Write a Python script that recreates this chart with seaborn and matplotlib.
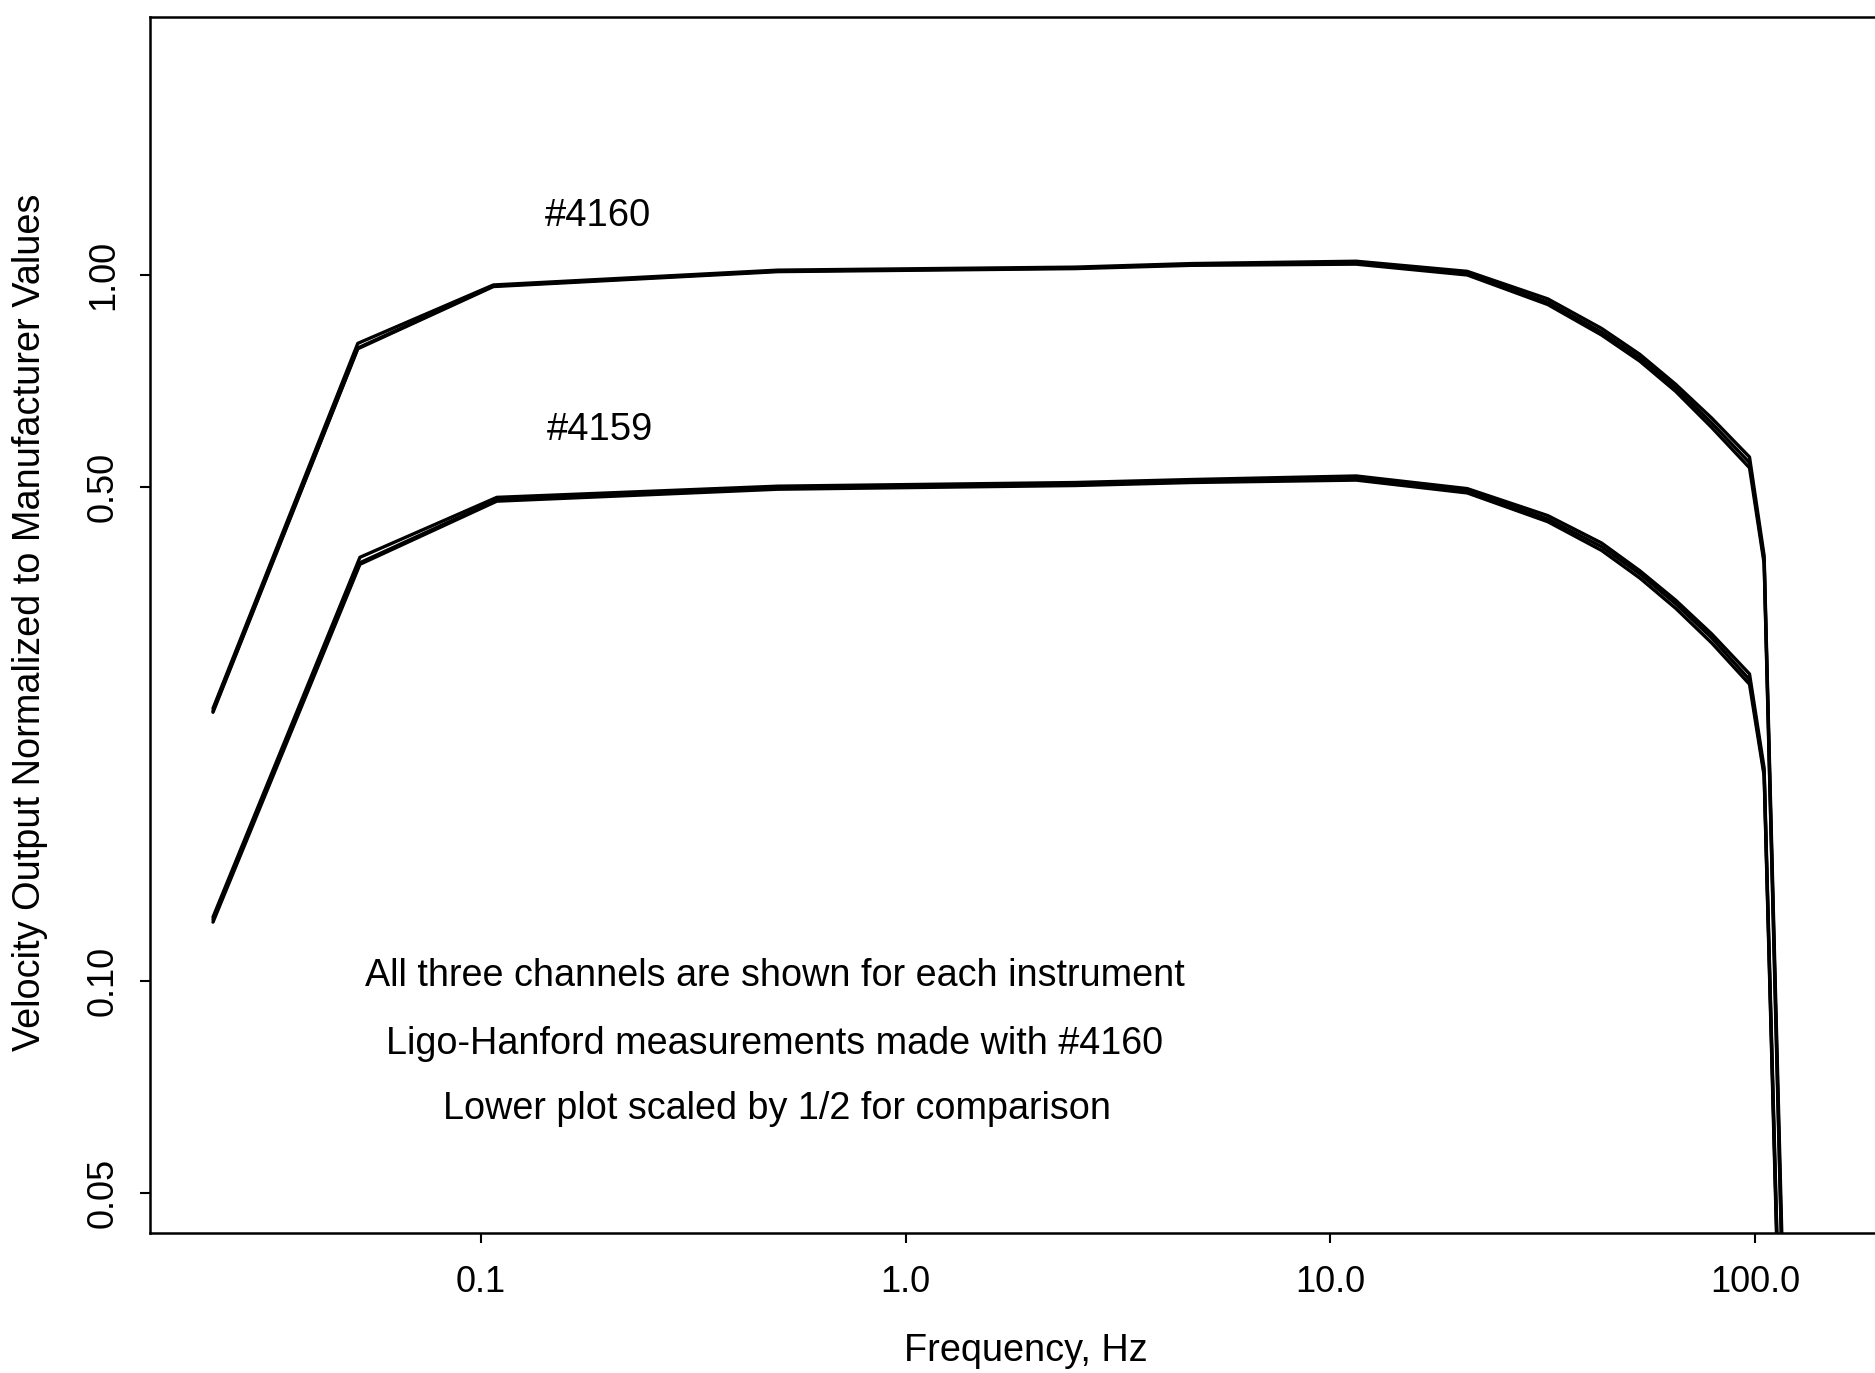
import numpy as np
import pandas as pd
import matplotlib
matplotlib.use("Agg")
import matplotlib.pyplot as plt
import seaborn as sns

# Frequency points (Hz) of the calibration sweep
freq_4160 = [0.0234, 0.0513, 0.107, 0.5, 2.5, 4.7, 11.5, 21.0, 32.5, 43.5, 53.5, 65.0, 79.0, 97.0, 105.0, 116.0]
freq_4159 = [0.0234, 0.0519, 0.109, 0.5, 2.5, 4.7, 11.5, 21.0, 32.5, 43.5, 53.5, 65.0, 79.0, 97.0, 105.0, 113.0]

# Instrument #4160, three channels
s4160_ch1 = [0.243, 0.800, 0.968, 1.016, 1.026, 1.038, 1.046, 1.012, 0.925, 0.840, 0.772, 0.700, 0.627, 0.552, 0.400, 0.040]
s4160_ch2 = [0.241, 0.788, 0.965, 1.013, 1.023, 1.035, 1.040, 1.005, 0.915, 0.830, 0.763, 0.692, 0.617, 0.542, 0.394, 0.038]
s4160_ch3 = [0.240, 0.786, 0.963, 1.011, 1.021, 1.032, 1.036, 1.000, 0.908, 0.822, 0.755, 0.684, 0.608, 0.533, 0.390, 0.037]

# Instrument #4159, three channels (scaled by 1/2)
s4159_ch1 = [0.123, 0.398, 0.484, 0.502, 0.508, 0.513, 0.519, 0.498, 0.456, 0.417, 0.381, 0.346, 0.310, 0.272, 0.200, 0.040]
s4159_ch2 = [0.122, 0.391, 0.480, 0.499, 0.505, 0.510, 0.515, 0.495, 0.451, 0.412, 0.377, 0.342, 0.306, 0.267, 0.197, 0.039]
s4159_ch3 = [0.121, 0.389, 0.478, 0.497, 0.503, 0.508, 0.512, 0.491, 0.447, 0.407, 0.372, 0.337, 0.301, 0.263, 0.195, 0.038]

x_ticks = [0.1, 1.0, 10.0, 100.0]
x_ticklabels = ["0.1", "1.0", "10.0", "100.0"]
y_ticks = [0.05, 0.10, 0.50, 1.00]
y_ticklabels = ["0.05", "0.10", "0.50", "1.00"]

notes = [
    "All three channels are shown for each instrument",
    "Ligo-Hanford measurements made with #4160",
    "Lower plot scaled by 1/2 for comparison",
]

rows = []
for inst, fr, chans in [("#4160", freq_4160, [s4160_ch1, s4160_ch2, s4160_ch3]),
                        ("#4159", freq_4159, [s4159_ch1, s4159_ch2, s4159_ch3])]:
    for k, vals in enumerate(chans, start=1):
        for f, v in zip(fr, vals):
            rows.append({"instrument": inst, "channel": k, "freq": f, "value": v})
df = pd.DataFrame(rows)
df["trace"] = df["instrument"] + "-" + df["channel"].astype(str)

sns.set_theme(style="white")
plt.rcParams["font.family"] = ["Liberation Sans", "DejaVu Sans"]
plt.rcParams["text.color"] = "black"
plt.rcParams["axes.labelcolor"] = "black"

W, H = 1875, 1373
fig = plt.figure(figsize=(W / 100, H / 100), dpi=100)
ax = fig.add_axes([150 / W, 1 - 1233 / H, (1894 - 150) / W, (1233 - 17) / H])

sns.lineplot(data=df, x="freq", y="value", units="trace", estimator=None,
             color="black", linewidth=2.4, sort=False, ax=ax, legend=False)

ax.set_xscale("log")
ax.set_yscale("log")
ax.set_xlim(0.01663, 212.3)
ax.set_ylim(0.04387, 2.321)

ax.xaxis.set_minor_locator(matplotlib.ticker.NullLocator())
ax.yaxis.set_minor_locator(matplotlib.ticker.NullLocator())
ax.set_xticks(x_ticks)
ax.set_xticklabels(x_ticklabels)
ax.set_yticks(y_ticks)
ax.set_yticklabels(y_ticklabels, rotation=90, va="center")

ax.tick_params(axis="both", which="major", direction="out", length=7, width=1.5,
               color="black", labelsize=26, labelcolor="black", bottom=True, left=True)
ax.tick_params(axis="x", pad=16)
ax.tick_params(axis="y", pad=14)

for side in ["top", "left", "bottom", "right"]:
    ax.spines[side].set_visible(True)
    ax.spines[side].set_color("black")
    ax.spines[side].set_linewidth(1.8)

ax.set_xlabel("")
ax.set_ylabel("")
fig.text(1026 / W, 1 - 1351 / H, "Frequency, Hz", ha="center", va="center", fontsize=27.3)
fig.text(30 / W, 1 - 622 / H, "Velocity Output Normalized to Manufacturer Values",
         ha="center", va="center", rotation=90, fontsize=27.3)

fig.text(598 / W, 1 - 216 / H, "#4160", ha="center", va="center", fontsize=27.5)
fig.text(600 / W, 1 - 430 / H, "#4159", ha="center", va="center", fontsize=27.5)

for (cx, cy), txt in zip([(775, 976), (775, 1044), (777, 1109)], notes):
    fig.text(cx / W, 1 - cy / H, txt, ha="center", va="center", fontsize=27.2)

fig.savefig("out.png", dpi=100, facecolor="white")
